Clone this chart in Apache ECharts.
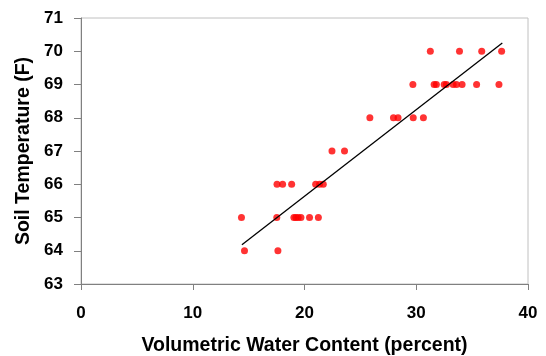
<!DOCTYPE html>
<html>
<head>
<meta charset="utf-8">
<script src="https://cdn.jsdelivr.net/npm/echarts@6/dist/echarts.min.js"></script>
<style>html,body{margin:0;padding:0;background:#fff}#c{width:546px;height:356px}</style>
</head>
<body>
<div id="c"></div>
<script>
// Volumetric water content (percent) and soil temperature (F)
const waterContent = [
  31.26, 33.87, 35.86, 37.64,
  29.7, 31.6, 31.8, 32.5, 32.7, 33.3, 33.6, 34.1, 35.4, 37.4,
  25.85, 27.96, 28.37, 29.73, 30.64,
  22.46, 23.58,
  17.54, 18.04, 18.85, 21.0, 21.35, 21.68,
  14.36, 17.52, 19.05, 19.23, 19.43, 19.68, 20.45, 21.24,
  14.63, 17.62
];
const soilTemp = [
  70, 70, 70, 70,
  69, 69, 69, 69, 69, 69, 69, 69, 69, 69,
  68, 68, 68, 68, 68,
  67, 67,
  66, 66, 66, 66, 66, 66,
  65, 65, 65, 65, 65, 65, 65, 65,
  64, 64
];
// Trend line endpoints
const trendX = [14.4, 37.7];
const trendY = [64.18, 70.25];

const points = waterContent.map((x, i) => [x, soilTemp[i]]);
const trend = trendX.map((x, i) => [x, trendY[i]]);

const font = 'Liberation Sans, Arial, sans-serif';
const chart = echarts.init(document.getElementById('c'), null, {renderer: 'canvas'});
chart.setOption({
  animation: false,
  backgroundColor: '#ffffff',
  grid: {left: 81, right: 18, top: 18, bottom: 72, show: true, borderColor: '#c0c0c0', borderWidth: 1,
         containLabel: false, outerBoundsMode: 'none'},
  xAxis: {
    type: 'value', min: 0, max: 40, interval: 10,
    name: 'Volumetric Water Content (percent)',
    nameLocation: 'middle', nameGap: 52,
    nameTextStyle: {fontFamily: font, fontWeight: 'bold', fontSize: 19.5, color: '#000'},
    axisLine: {show: true, lineStyle: {color: '#808080', width: 1}},
    axisTick: {show: true, inside: false, length: 6, lineStyle: {color: '#808080'}},
    axisLabel: {margin: 21, fontFamily: font, fontWeight: 'bold', fontSize: 17, color: '#000'},
    splitLine: {show: false}
  },
  yAxis: {
    type: 'value', min: 63, max: 71, interval: 1,
    name: 'Soil Temperature (F)',
    nameLocation: 'middle', nameGap: 40, nameRotate: 90,
    nameTextStyle: {fontFamily: font, fontWeight: 'bold', fontSize: 19.5, color: '#000'},
    axisLine: {show: true, lineStyle: {color: '#808080', width: 1}},
    axisTick: {show: true, inside: false, length: 7, lineStyle: {color: '#808080'}},
    axisLabel: {margin: 18, fontFamily: font, fontWeight: 'bold', fontSize: 17, color: '#000'},
    splitLine: {show: false}
  },
  series: [
    {
      type: 'line', data: trend, showSymbol: false, symbol: 'none',
      lineStyle: {color: '#000', width: 1.3}, z: 3
    },
    {
      type: 'scatter', data: points, symbol: 'circle', symbolSize: 7,
      itemStyle: {color: '#ff0000'}, z: 2
    }
  ]
});
</script>
</body>
</html>
